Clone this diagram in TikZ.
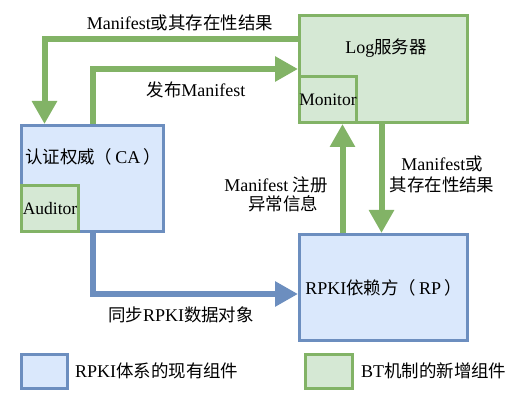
\documentclass[tikz,border=0pt]{standalone}
\usepackage{fontspec}
\setmainfont{Liberation Serif}
\newfontfamily\cjk{Noto Sans CJK SC}[Scale=0.97]
\usetikzlibrary{arrows.meta,calc}
\definecolor{bfill}{HTML}{DAE8FC}
\definecolor{bdraw}{HTML}{6C8EBF}
\definecolor{gfill}{HTML}{D5E8D4}
\definecolor{gdraw}{HTML}{82B366}
\begin{document}
\begin{tikzpicture}[x=1pt,y=-1pt,
  font=\fontsize{18}{21}\selectfont,
  bluebox/.style={draw=bdraw, fill=bfill, line width=3pt, rectangle, inner sep=0pt},
  greenbox/.style={draw=gdraw, fill=gfill, line width=3pt, rectangle, inner sep=0pt},
  garrow/.style={draw=gdraw, line width=6pt, -{Triangle[width=24pt,length=23pt]}},
  barrow/.style={draw=bdraw, line width=6pt, -{Triangle[width=24pt,length=23pt]}},
  lbl/.style={inner sep=0pt, align=center}]
\useasboundingbox (0,0) rectangle (517,403);

% boxes
\node[greenbox, minimum width=168pt, minimum height=107pt] (log) at (383.5,69) {};
\node[greenbox, minimum width=57pt, minimum height=46pt, font=\fontsize{17.5}{20}\selectfont] (mon) at (328,99.5) {Monitor};
\node[bluebox, minimum width=142pt, minimum height=106pt] (ca) at (92.5,178.5) {};
\node[greenbox, minimum width=57pt, minimum height=46pt, font=\fontsize{17.5}{20}\selectfont] (aud) at (50,208.5) {Auditor};
\node[bluebox, minimum width=168pt, minimum height=106pt] (rp) at (383.5,287.5) {RPKI{\cjk 依赖方（}\hspace{3pt}RP\hspace{3pt}{\cjk ）}};

\node[lbl] (logt) at (386,48) {Log{\cjk 服务器}};
\node[lbl] (cat) at (93,157) {{\cjk 认证权威（}\hspace{3pt}CA\hspace{3pt}{\cjk ）}};

% connectors
\draw[garrow] ($(log.west)+(0,-29.5)$) -| ($(ca.north west)+(24.5,0)$);
\draw[garrow] (ca.north) |- (log.west);
\draw[garrow] ($(rp.north)+(-41,0)$) -- ($(log.south)+(-41,0)$);
\draw[garrow] ($(log.south)+(-2,0)$) -- ($(rp.north)+(-2,0)$);
\draw[barrow] (ca.south) |- ($(rp.west)+(0,6.5)$);

% connector labels
\node[lbl] (t1) at (180,23) {Manifest{\cjk 或其存在性结果}};
\node[lbl] (t2) at (196,90) {{\cjk 发布}Manifest};
\node[lbl, font=\fontsize{18}{19}\selectfont] (t3) at (276,194) {Manifest {\cjk 注册}\\\hspace{14pt}{\cjk 异常信息}};
\node[lbl, font=\fontsize{18}{21}\selectfont] (t4) at (442,174) {Manifest{\cjk 或}\\{\cjk 其存在性结果}};
\node[lbl] (t5) at (181,315) {{\cjk 同步}RPKI{\cjk 数据对象}};

% legend
\node[bluebox, minimum width=46pt, minimum height=34pt] (lb) at (44.5,371.5) {};
\node[greenbox, minimum width=47pt, minimum height=34pt] (lg) at (329,371.5) {};
\node[lbl, anchor=west] (lbt) at (75,371) {RPKI{\cjk 体系的现有组件}};
\node[lbl, anchor=west] (lgt) at (361,371) {BT{\cjk 机制的新增组件}};
\end{tikzpicture}
\end{document}
